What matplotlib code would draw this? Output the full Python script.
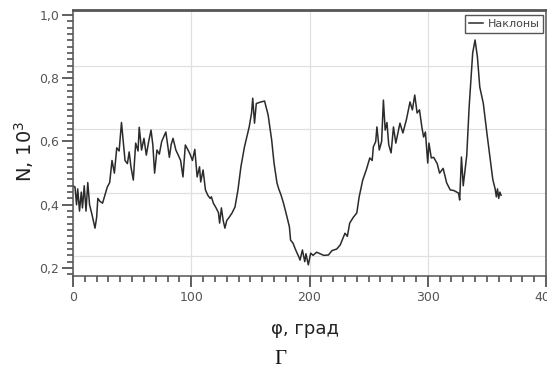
import matplotlib
matplotlib.use("Agg")
import matplotlib.pyplot as plt
from matplotlib.ticker import MultipleLocator, FuncFormatter
from matplotlib.transforms import ScaledTranslation

# ---- data ----
phi = [0, 1.7, 3, 4, 5.5, 7, 8, 9.5, 11, 12.5, 14, 16, 18.6, 20, 21, 23, 25, 27, 29, 31,
       33, 35, 37, 39, 41, 42.5, 44, 46, 47.5, 49, 51, 53, 55, 56, 58, 60, 62, 64, 66, 67.5,
       69, 71, 73, 75, 78.5, 80, 81.5, 83, 84.6, 87, 89, 91, 93, 95, 97, 99, 101, 103, 105, 107,
       108, 110, 112, 114, 116, 117, 118.7, 121, 123, 124, 125.5, 127, 128.5, 130, 132, 134.5, 137, 139.5, 142, 145,
       147, 149, 151, 152, 153.5, 155, 158, 162, 165, 168, 170, 172.5, 174, 176, 178, 181, 183, 184, 186, 188,
       189.5, 191, 192, 194, 196, 197, 199, 201, 203, 206, 209, 212, 216, 219, 223, 226, 230, 232, 234, 237,
       240, 242, 245, 248, 251, 253, 254, 256, 257, 259, 261, 262.5, 264, 265.5, 267, 269, 271, 273, 276.5, 279,
       282, 285, 287, 289, 291, 293, 295, 296.5, 298, 300, 301, 303, 305, 308, 310, 313, 316, 319, 322, 326,
       327, 328.5, 330, 333, 335, 338, 340, 342, 344, 347, 350, 353, 355, 357, 358, 359, 360, 361, 362]
N = [0.46, 0.456, 0.40, 0.45, 0.38, 0.44, 0.39, 0.46, 0.38, 0.47, 0.40, 0.37, 0.326, 0.36, 0.42, 0.41, 0.405, 0.43, 0.456, 0.47,
     0.54, 0.50, 0.58, 0.57, 0.66, 0.60, 0.54, 0.53, 0.567, 0.52, 0.478, 0.595, 0.57, 0.645, 0.573, 0.61, 0.557, 0.60, 0.636, 0.59,
     0.50, 0.573, 0.56, 0.60, 0.63, 0.59, 0.55, 0.59, 0.61, 0.573, 0.557, 0.54, 0.488, 0.589, 0.575, 0.56, 0.54, 0.575, 0.488, 0.52,
     0.472, 0.51, 0.447, 0.43, 0.42, 0.425, 0.405, 0.39, 0.375, 0.342, 0.39, 0.35, 0.326, 0.35, 0.36, 0.374, 0.393, 0.447, 0.52, 0.583,
     0.614, 0.646, 0.69, 0.737, 0.658, 0.72, 0.724, 0.728, 0.684, 0.605, 0.532, 0.469, 0.45, 0.43, 0.405, 0.361, 0.33, 0.288, 0.279, 0.26,
     0.247, 0.235, 0.225, 0.257, 0.22, 0.245, 0.21, 0.247, 0.24, 0.25, 0.245, 0.24, 0.241, 0.255, 0.26, 0.273, 0.31, 0.30, 0.342, 0.36,
     0.374, 0.425, 0.478, 0.51, 0.548, 0.54, 0.583, 0.60, 0.646, 0.573, 0.60, 0.731, 0.636, 0.66, 0.59, 0.564, 0.646, 0.595, 0.658, 0.627,
     0.67, 0.725, 0.70, 0.747, 0.69, 0.70, 0.646, 0.614, 0.63, 0.532, 0.595, 0.548, 0.55, 0.53, 0.50, 0.515, 0.469, 0.447, 0.445, 0.437,
     0.415, 0.551, 0.46, 0.557, 0.709, 0.88, 0.921, 0.867, 0.772, 0.72, 0.627, 0.54, 0.48, 0.45, 0.425, 0.45, 0.42, 0.44, 0.43]

series_label = "Наклоны"
x_label = "φ, град"
y_label = "N, 10$^3$"
caption = "Г"
x_ticks = [0, 100, 200, 300, 400]
y_ticks = [0.2, 0.4, 0.6, 0.8, 1.0]

# ---- figure ----
fig = plt.figure(figsize=(5.47, 3.74), dpi=100)
ax = fig.add_axes([73 / 547, (374 - 276) / 374, 473 / 547, 266 / 374])

ax.plot(phi, N, color="#2b2b2b", lw=1.1, label=series_label)

ax.set_xlim(0, 400)
ax.set_ylim(0.1747, 1.0158)
ax.set_xticks(x_ticks)
ax.set_yticks(y_ticks)
ax.xaxis.set_minor_locator(MultipleLocator(10))
ax.yaxis.set_minor_locator(MultipleLocator(0.02))
ax.yaxis.set_major_formatter(FuncFormatter(lambda v, p: f"{v:.1f}".replace(".", ",")))

tc = "#555555"
ax.tick_params(axis="both", which="major", direction="out", length=8, width=1.2,
               color="#444444", labelsize=9, labelcolor=tc)
ax.tick_params(axis="both", which="minor", direction="out", length=4.5, width=1.1,
               color="#444444")
ax.tick_params(axis="y", which="major", pad=2)
ax.tick_params(axis="x", which="major", pad=3)

for s in ["left", "bottom", "right"]:
    ax.spines[s].set_color("#555555")
    ax.spines[s].set_linewidth(1.1)
ax.spines["top"].set_color("#555555")
ax.spines["top"].set_linewidth(2.0)

ax.grid(True, which="major", color="#e0e0e0", lw=0.9)
ax.set_axisbelow(True)

ax.set_xlabel(x_label, fontsize=13, color="#222222")
ax.xaxis.set_label_coords(0.49, -0.165)
ax.set_ylabel(y_label, fontsize=14, color="#222222")
ax.yaxis.set_label_coords(-0.078, 0.47)

leg = ax.legend(loc="upper right", bbox_to_anchor=(0.994, 0.981), borderaxespad=0,
                fontsize=8, handlelength=1.3, handletextpad=0.4, borderpad=0.35,
                fancybox=False, framealpha=1, edgecolor="#555555")
leg.get_frame().set_linewidth(1.0)
for t in leg.get_texts():
    t.set_color("#444444")

fig.text(0.512, 0.04, caption, fontsize=15, family="Liberation Serif",
         ha="center", va="center", color="#111111")

# horizontal grid lines sit slightly above the tick marks in the original scan
fig.canvas.draw()
offset = ScaledTranslation(0, 0.12, fig.dpi_scale_trans)
for gl in ax.get_ygridlines():
    gl.set_transform(gl.get_transform() + offset)

fig.savefig("out.png", dpi=100)
